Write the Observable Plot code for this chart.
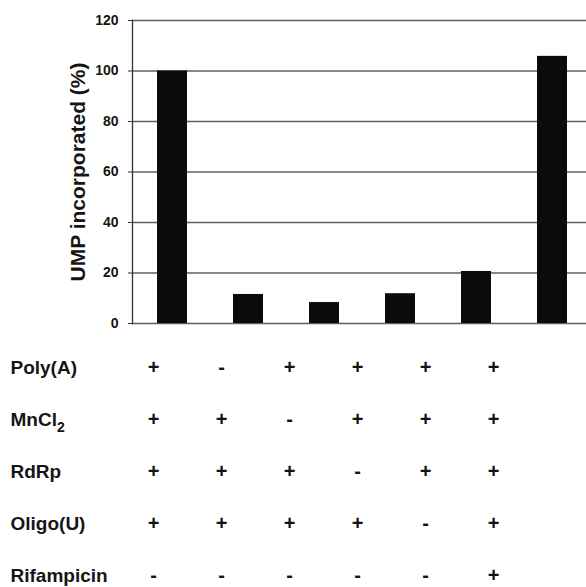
<!DOCTYPE html>
<html>
<head>
<meta charset="utf-8">
<script src="https://cdn.jsdelivr.net/npm/d3@7"></script>
<script src="https://cdn.jsdelivr.net/npm/@observablehq/plot@0.6"></script>
<style>
  html, body { margin: 0; padding: 0; background: #fff; }
  #chart svg { display: block; }
</style>
</head>
<body>
<div id="chart"></div>
<script>
// ---- data ----
const conditions = ["1", "2", "3", "4", "5", "6"];
const umpIncorporated = [100, 11.5, 8.3, 11.8, 20.6, 105.8];
const yTicks = [0, 20, 40, 60, 80, 100, 120];
const yLabel = "UMP incorporated (%)";

const rowLabels = ["Poly(A)", "MnCl\u2082", "RdRp", "Oligo(U)", "Rifampicin"];
const polyA      = ["+", "-", "+", "+", "+", "+"];
const mnCl2      = ["+", "+", "-", "+", "+", "+"];
const rdRp       = ["+", "+", "+", "-", "+", "+"];
const oligoU     = ["+", "+", "+", "+", "-", "+"];
const rifampicin = ["-", "-", "-", "-", "-", "+"];
const symbolRows = [polyA, mnCl2, rdRp, oligoU, rifampicin];

const bars = conditions.map((c, i) => ({condition: c, value: umpIncorporated[i]}));
const cells = [];
rowLabels.forEach((r, ri) => conditions.forEach((c, ci) => cells.push({row: r, col: c, sym: symbolRows[ri][ci]})));

const font = "'Liberation Sans', Arial, Helvetica, sans-serif";
const ink = "#151515";

// ---- bar chart ----
const chart = Plot.plot({
  width: 586,
  height: 335,
  marginTop: 20,
  marginBottom: 12,
  marginLeft: 132,
  marginRight: 0,
  style: {fontFamily: font, fontWeight: "bold", color: ink, background: "#fff"},
  x: {domain: conditions, range: [132, 592], paddingInner: 0.61, paddingOuter: 0.33, axis: null},
  y: {domain: [0, 120], ticks: yTicks, label: null},
  marks: [
    Plot.gridY(yTicks, {stroke: "#444", strokeOpacity: 0.85, strokeWidth: 1.3}),
    Plot.frame({anchor: "left", stroke: "#333", strokeWidth: 1.3}),
    Plot.axisY(yTicks, {tickSize: 4, tickPadding: 10, fontSize: 14, fontWeight: "bold", stroke: "#333", label: null}),
    Plot.barY(bars, {x: "condition", y: "value", fill: "#0b0b0b"}),
    Plot.text([yLabel], {text: d => d, frameAnchor: "left", textAnchor: "middle", lineAnchor: "middle", rotate: -90, dx: -54, fontSize: 21, fontWeight: "bold", fill: ink})
  ]
});

// ---- condition table ----
const table = Plot.plot({
  width: 586,
  height: 252,
  margin: 0,
  style: {fontFamily: font, fontWeight: "bold", color: ink, background: "#fff"},
  x: {type: "point", domain: conditions, range: [152, 494], padding: 0, axis: null},
  y: {type: "point", domain: rowLabels, range: [32, 240], padding: 0, axis: null},
  marks: [
    Plot.text(rowLabels, {y: d => d, text: d => d, frameAnchor: "left", dx: 10, textAnchor: "start", fontSize: 19, fontWeight: "bold", fill: ink}),
    Plot.text(cells, {x: "col", y: "row", text: "sym", fontSize: 20, fontWeight: "bold", fill: ink})
  ]
});

// proper subscript for MnCl2 (kept as real text)
d3.select(table).selectAll("text").filter(function () { return this.textContent === "MnCl\u2082"; })
  .each(function () {
    const t = d3.select(this);
    t.text("MnCl");
    t.append("tspan").attr("dy", "6").attr("font-size", 14).text("2");
  });

const root = document.getElementById("chart");
root.appendChild(chart);
root.appendChild(table);
</script>
</body>
</html>
